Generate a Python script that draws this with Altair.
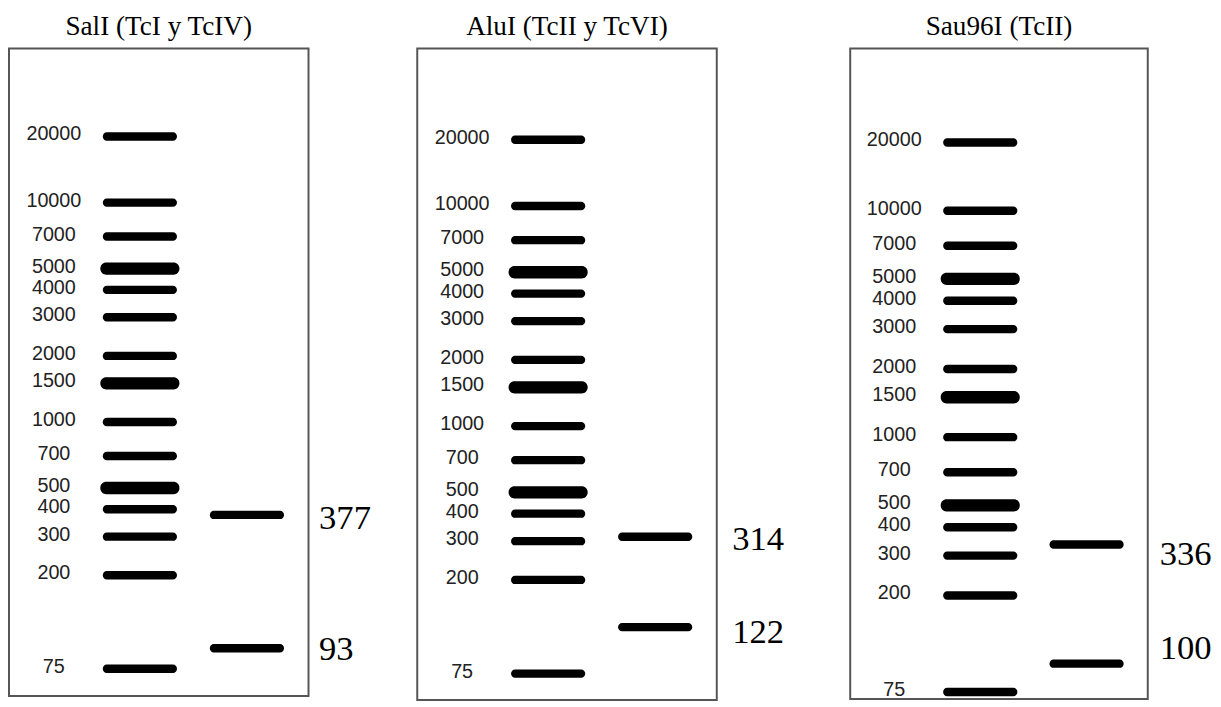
import altair as alt
import pandas as pd

# ---------------- data ----------------
ladder_bp = [20000, 10000, 7000, 5000, 4000, 3000, 2000, 1500, 1000, 700, 500, 400, 300, 200, 75]
intense_bp = [5000, 1500, 500]

panel_titles = ["SalI (TcI y TcIV)", "AluI (TcII y TcVI)", "Sau96I (TcII)"]
sali_bp = [377, 93]
alui_bp = [314, 122]
sau96i_bp = [336, 100]
sample_bp = [sali_bp, alui_bp, sau96i_bp]

# ---------------- layout / style ----------------
PANEL_W = [303, 303, 301]
PANEL_H = [655, 659, 658]
Y_DOMAIN = [[56.3, 50350], [56.9, 51960], [69.8, 51970]]
TITLE_OFFSET = 8
SIZE_LABEL_DX = [73, 78, 74]
SIZE_LABEL_DY = [[3, 1], [2, 5], [10, -16]]


def panel(i):
    lad = pd.DataFrame({
        "lane": "ladder",
        "bp": ladder_bp,
        "label": [str(v) for v in ladder_bp],
        "intense": [v in intense_bp for v in ladder_bp],
    })
    smp = pd.DataFrame({
        "lane": "sample",
        "bp": sample_bp[i],
        "label": [str(v) for v in sample_bp[i]],
    })
    x = alt.X("lane:N", axis=None,
              scale=alt.Scale(type="point", domain=["ladder", "sample"],
                              padding=0.899, align=0.68))
    y = alt.Y("bp:Q", axis=None,
              scale=alt.Scale(type="log", domain=Y_DOMAIN[i], nice=False))

    normal = alt.Chart(lad[~lad["intense"]]).mark_tick(
        color="black", opacity=1, thickness=8.5, cornerRadius=4
    ).encode(x=x, y=y, size=alt.value(75))
    intense = alt.Chart(lad[lad["intense"]]).mark_tick(
        color="black", opacity=1, thickness=12.5, cornerRadius=6
    ).encode(x=x, y=y, size=alt.value(80))
    sample = alt.Chart(smp).mark_tick(
        color="black", opacity=1, thickness=8.5, cornerRadius=4
    ).encode(x=x, y=y, size=alt.value(75))
    ladder_labels = alt.Chart(lad).mark_text(
        font="Liberation Sans", fontSize=20, color="#222",
        align="center", baseline="middle", dx=-87, dy=-2
    ).encode(x=x, y=y, text="label:N")

    size_labels = []
    for j in range(len(sample_bp[i])):
        size_labels.append(
            alt.Chart(smp.iloc[[j]]).mark_text(
                font="Liberation Serif", fontSize=35, color="black",
                align="left", baseline="middle",
                dx=SIZE_LABEL_DX[i], dy=SIZE_LABEL_DY[i][j]
            ).encode(x=x, y=y, text="label:N")
        )

    return alt.layer(normal, intense, sample, ladder_labels, *size_labels).properties(
        width=PANEL_W[i],
        height=PANEL_H[i],
        title=alt.Title(panel_titles[i], font="Liberation Serif", fontSize=27.5,
                        fontWeight="normal", color="black",
                        offset=TITLE_OFFSET, anchor="middle"),
    )


p = [panel(i) for i in range(3)]

chart = alt.hconcat(
    alt.hconcat(p[0], p[1], spacing=44),
    p[2],
    spacing=64,
).properties(
    padding={"left": 0, "top": 0, "right": 0, "bottom": 0},
    background="white",
).configure_view(stroke="#555", strokeWidth=2)

chart.save("out.html", embed_options={"renderer": "svg", "actions": False})
